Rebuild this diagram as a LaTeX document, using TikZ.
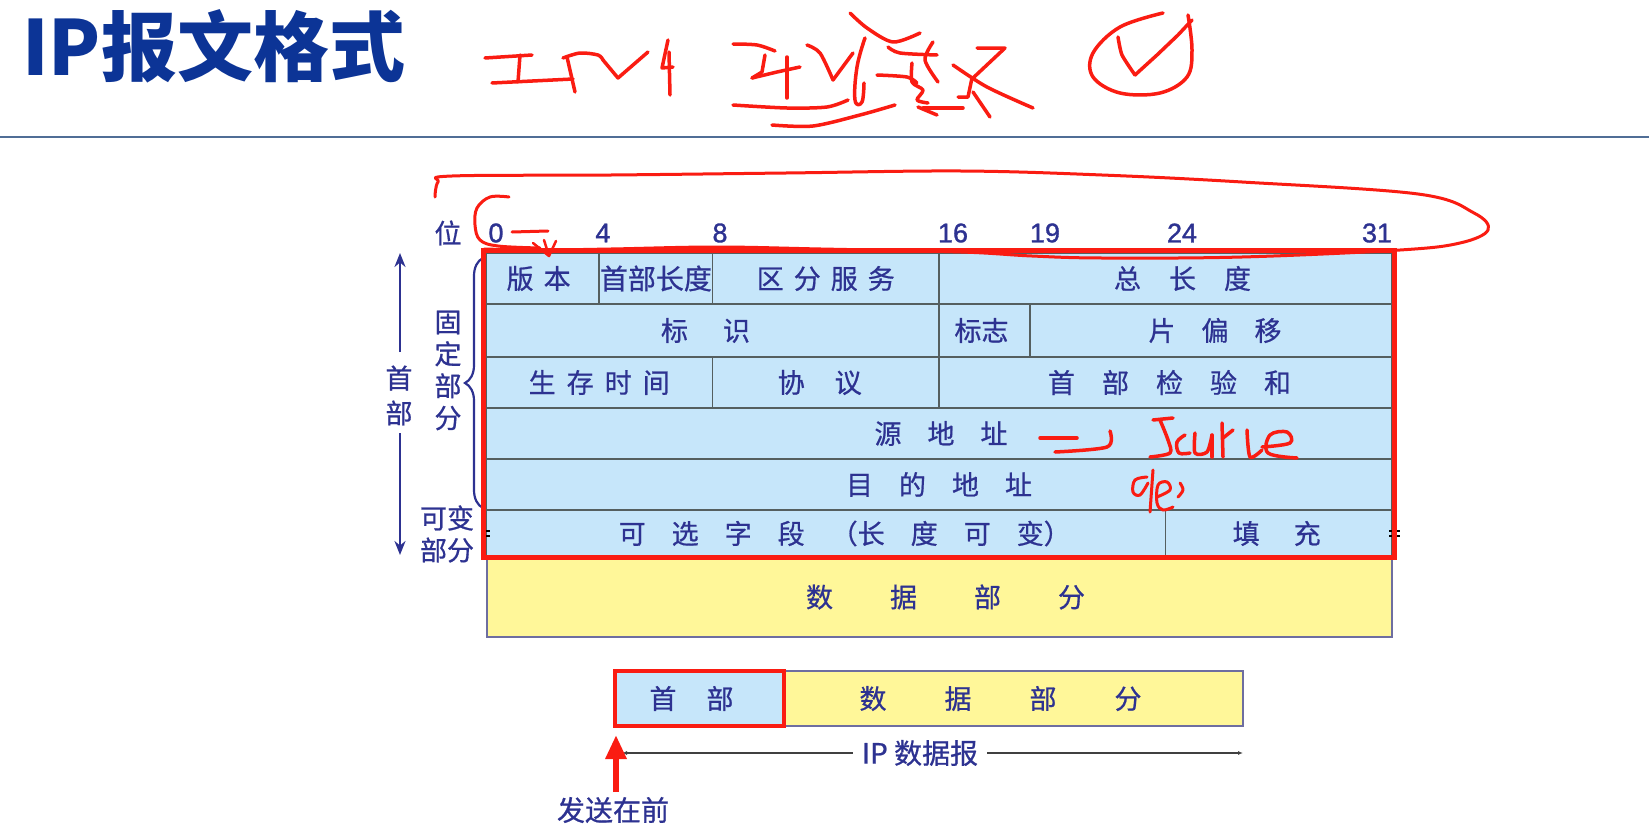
\documentclass[tikz,border=0pt]{standalone}
\usepackage{fontspec}
\usetikzlibrary{arrows.meta,decorations.pathreplacing}
\newfontfamily\cjk[FakeBold=0.7]{Noto Sans CJK SC}
\newfontfamily\cjktitle{Noto Sans CJK SC}
\newfontfamily\arialf[FakeBold=1.2]{Liberation Sans}
\definecolor{navy}{RGB}{45,50,145}
\definecolor{titleblue}{RGB}{12,52,150}
\definecolor{cellblue}{RGB}{198,230,250}
\definecolor{yellowc}{RGB}{255,247,153}
\definecolor{gridc}{RGB}{85,95,95}
\definecolor{datab}{RGB}{110,110,160}
\definecolor{hred}{RGB}{250,28,18}
\definecolor{rulec}{RGB}{80,110,150}
\newcommand\hgap[1]{\hspace{#1pt}}
\newcommand\bw{28.3125pt}
\begin{document}
\begin{tikzpicture}[x=1pt,y=-1pt,
  cell/.style={draw=gridc, line width=1.6pt, fill=cellblue, anchor=north west, inner sep=0, outer sep=0},
  txt/.style={font=\cjk\fontsize{27}{32}\selectfont, text=navy, inner sep=0, align=center},
  bitlbl/.style={font=\arialf\fontsize{27}{27}\selectfont, text=navy, inner sep=0},
  hand/.style={draw=hred, line width=3.5pt, line cap=round, line join=round},
  dline/.style={draw=black!75, line width=1.2pt},
]
\fill[white] (0,0) rectangle (1649,835);
\useasboundingbox (0,0) rectangle (1649,835);

% title and rule
\node[anchor=base west, inner sep=0, text=titleblue, font=\cjktitle\bfseries\fontsize{76}{76}\selectfont] (title) at (22,75) {IP报文格式};
\coordinate (ruleL) at (0,137);
\coordinate (ruleR) at (1649,137);
\draw[rulec, line width=2pt] (ruleL) -- (ruleR);

% bit labels
\node[txt] (wei) at (448,233) {位};
\node[bitlbl] (b0) at (496,233) {0};
\node[bitlbl] (b4) at (603,233) {4};
\node[bitlbl] (b8) at (720,233) {8};
\node[bitlbl] (b16) at (953,233) {16};
\node[bitlbl] (b19) at (1045,233) {19};
\node[bitlbl] (b24) at (1182,233) {24};
\node[bitlbl] (b31) at (1377,233) {31};

% data part (below header)
\node[anchor=north west, fill=yellowc, draw=datab, line width=1.5pt, inner sep=0, outer sep=0, minimum width=905pt, minimum height=80pt] (data) at (487,557) {};
\node[txt, xshift=6pt] (tdata) at (data.center) {数\hgap{57}据\hgap{57}部\hgap{57}分};

% header cells
\node[cell, minimum width=4*\bw, minimum height=51pt] (c1) at (486,253) {};
\node[cell, minimum width=4*\bw, minimum height=51pt] (c2) at (599.25,253) {};
\node[cell, minimum width=8*\bw, minimum height=51pt] (c3) at (712.5,253) {};
\node[cell, minimum width=16*\bw, minimum height=51pt] (c4) at (939,253) {};
\node[cell, minimum width=16*\bw, minimum height=53pt] (c5) at (486,304) {};
\node[cell, minimum width=91pt, minimum height=53pt] (c6) at (939,304) {};
\node[cell, minimum width=362pt, minimum height=53pt] (c7) at (1030,304) {};
\node[cell, minimum width=8*\bw, minimum height=51pt] (c8) at (486,357) {};
\node[cell, minimum width=8*\bw, minimum height=51pt] (c9) at (712.5,357) {};
\node[cell, minimum width=16*\bw, minimum height=51pt] (c10) at (939,357) {};
\node[cell, minimum width=32*\bw, minimum height=51pt] (c11) at (486,408) {};
\node[cell, minimum width=32*\bw, minimum height=51pt] (c12) at (486,459) {};
\node[cell, minimum width=24*\bw, minimum height=47pt] (c13) at (486,510) {};
\node[cell, minimum width=8*\bw, minimum height=47pt] (c14) at (1165.5,510) {};

\node[txt, xshift=-4pt] (t1) at (c1.center) {版\hgap{10}本};
\node[txt, font=\cjk\fontsize{28}{28}\selectfont] (t2) at (c2.center) {首部长度};
\node[txt] (t3) at (c3.center) {区\hgap{10}分\hgap{10}服\hgap{10}务};
\node[txt, xshift=17pt] (t4) at (c4.center) {总\hgap{28}长\hgap{28}度};
\node[txt, xshift=-7pt] (t5) at (c5.center) {标\hgap{35}识};
\node[txt, xshift=-3pt] (t6) at (c6.center) {标志};
\node[txt, xshift=4pt] (t7) at (c7.center) {片\hgap{26}偏\hgap{26}移};
\node[txt] (t8) at (c8.center) {生\hgap{11}存\hgap{11}时\hgap{11}间};
\node[txt, xshift=-6pt] (t9) at (c9.center) {协\hgap{30}议};
\node[txt, xshift=4pt] (t10) at (c10.center) {首\hgap{27}部\hgap{27}检\hgap{27}验\hgap{27}和};
\node[txt, xshift=2pt] (t11) at (c11.center) {源\hgap{26}地\hgap{26}址};
\node[txt] (t12) at (c12.center) {目\hgap{26}的\hgap{26}地\hgap{26}址};
\node[txt, xshift=19pt] (t13) at (c13.center) {可\hgap{26}选\hgap{26}字\hgap{26}段\hgap{26}（长\hgap{26}度\hgap{26}可\hgap{26}变）};
\node[txt, xshift=-2pt] (t14) at (c14.center) {填\hgap{34}充};

% small break marks
\draw[black, line width=1.3pt] (481,531) -- (490,531) (481,536) -- (490,536);
\draw[black, line width=1.3pt] (1389,531) -- (1400,531) (1389,536) -- (1400,536);

% left annotations
\node[txt] (guding) at (448,370.5) {固\\定\\部\\分};
\node[txt] (kebian) at (447,534) {可变\\部分};
\node[txt, font=\cjk\fontsize{27}{35}\selectfont] (shoubu) at (399,395.5) {首\\部};
\coordinate (vt) at (400,253);
\coordinate (vb) at (400,555);
\coordinate (vg1) at (400,352);
\coordinate (vg2) at (400,433);
\draw[navy, line width=2.5pt, -{Stealth[length=14pt,width=11pt]}] (vg1) -- (vt);
\draw[navy, line width=2.5pt, -{Stealth[length=14pt,width=11pt]}] (vg2) -- (vb);
\coordinate (brb) at (483,508);
\coordinate (brt) at (483,258);
\draw[navy, line width=2.2pt, decorate, decoration={brace, amplitude=18pt}] (brb) -- (brt);

% red frame around header
\draw[hred, line width=5pt] (483,250) rectangle (1394,557);

% bottom datagram bar
\node[anchor=north west, fill=yellowc, draw=datab, line width=1.5pt, inner sep=0, outer sep=0, minimum width=459pt, minimum height=55pt] (dat2) at (784,671) {};
\node[anchor=north west, fill=cellblue, draw=hred, line width=4pt, inner sep=0, outer sep=0, minimum width=169pt, minimum height=55pt] (hdr) at (615,671) {};
\node[txt, xshift=-8pt] (thdr) at (hdr.center) {首\hgap{30}部};
\node[txt, xshift=-13pt] (tdat2) at (dat2.center) {数\hgap{58}据\hgap{58}部\hgap{58}分};
\coordinate (ipL) at (622,753);
\coordinate (ipR) at (1243,753);
\node[txt, fill=white, inner xsep=9pt, inner ysep=2pt, font=\cjk\fontsize{28}{28}\selectfont] (iplbl) at (920,753) {IP 数据报};
\draw[dline, -{Latex[length=5pt,width=4pt]}] (iplbl.west) -- (ipL);
\draw[dline, -{Latex[length=5pt,width=4pt]}] (iplbl.east) -- (ipR);
\node[txt, font=\cjk\fontsize{28}{28}\selectfont] (send) at (613,810) {发送在前};
\coordinate (sendtip) at (616,735);
\coordinate (sendbase) at (616,792);
\draw[hred, line width=6pt, -{Triangle[length=24pt,width=20pt]}] (sendbase) -- (sendtip);

% handwriting: loop around bit numbers
\draw[hand, line width=3pt] plot[smooth, tension=0.6] coordinates {(435,197) (438,182) (452,176) (611,175) (786,173) (961,171) (1102,175) (1242,182) (1418,194) (1474,213) (1488,230) (1460,243) (1400,250) (1242,257) (1102,258) (1032,256) (961,252) (821,249) (716,247) (611,249) (540,250) (484,249)};
\draw[hand, line width=3pt] plot[smooth, tension=0.6] coordinates {(509,197) (490,197) (477,208) (475,225) (480,240) (498,246) (540,248)};
\draw[hand, line width=3pt] (512,232) -- (548,231);
\draw[hand, line width=2.5pt] (533,243) -- (549,256) -- (556,241);
\draw[hand, line width=2.5pt] (544,240) -- (549,256);

% handwriting: IPv4
\draw[hand] (485,58) -- (532,55);
\draw[hand] (520,55) -- (518,82);
\draw[hand] (492,83) -- (573,79);
\draw[hand] (567,57) -- (575,92);
\draw[hand] plot[smooth, tension=0.5] coordinates {(563,58) (580,53) (598,55) (603,60)};
\draw[hand] (603,60) -- (618,78) -- (648,52);
\draw[hand] (668,40) -- (662,68) -- (673,67);
\draw[hand] (669,52) -- (670,95);

% handwriting: second word
\draw[hand] plot[smooth, tension=0.5] coordinates {(733,44) (757,45) (775,51)};
\draw[hand] (765,55) -- (762,72) -- (752,78);
\draw[hand] (752,78) -- (777,72) -- (800,67);
\draw[hand] (787,57) -- (787,98);
\draw[hand] plot[smooth, tension=0.5] coordinates {(807,45) (820,53) (833,80)};
\draw[hand] (833,80) -- (853,53);
\draw[hand] plot[smooth, tension=0.7] coordinates {(865,38) (857,67) (855,100) (862,102) (864,83)};
\draw[hand] plot[smooth, tension=0.5] coordinates {(733,105) (787,108) (827,107) (848,100)};
\draw[hand] plot[smooth, tension=0.5] coordinates {(772,125) (813,126) (860,115) (895,105)};
\draw[hand] plot[smooth, tension=0.5] coordinates {(850,13) (867,28) (893,42) (920,33)};
\draw[hand] plot[smooth, tension=0.5] coordinates {(888,47) (900,53) (937,55)};
\draw[hand] plot[smooth, tension=0.5] coordinates {(933,42) (925,60) (938,82)};
\draw[hand] plot[smooth, tension=0.5] coordinates {(877,75) (907,77) (917,83)};
\draw[hand] plot[smooth, tension=0.5] coordinates {(912,63) (912,82) (923,90) (917,100) (928,103)};
\draw[hand] (918,107) -- (937,115);
\draw[hand] (923,108) -- (963,108);
\draw[hand] (977,48) -- (1005,48) -- (973,78);
\draw[hand] plot[smooth, tension=0.5] coordinates {(953,65) (987,87) (1033,108)};
\draw[hand] (972,78) -- (968,97) -- (958,97);
\draw[hand] (973,92) -- (990,117);

% handwriting: circled check
\draw[hand] plot[smooth, tension=0.6] coordinates {(1163,13) (1120,27) (1093,53) (1093,77) (1120,93) (1160,93) (1187,77) (1192,50) (1188,15)};
\draw[hand] plot[smooth, tension=0.4] coordinates {(1118,37) (1122,55) (1135,75)};
\draw[hand] (1135,75) -- (1157,55) -- (1178,35) -- (1192,20);

% handwriting: -> Source, de
\draw[hand] (1040,438) -- (1077,438);
\draw[hand] plot[smooth, tension=0.5] coordinates {(1055,452) (1107,447) (1110,431)};
\draw[hand] (1153,420) -- (1173,418);
\draw[hand] plot[smooth, tension=0.5] coordinates {(1160,420) (1168,440) (1170,453) (1150,457)};
\draw[hand] plot[smooth, tension=0.6] coordinates {(1185,435) (1177,442) (1179,453) (1190,453)};
\draw[hand] plot[smooth, tension=0.5] coordinates {(1195,433) (1195,453) (1207,452) (1212,435)};
\draw[hand] (1212,435) -- (1212,457);
\draw[hand] (1222,423) -- (1223,457);
\draw[hand] (1223,438) -- (1233,430);
\draw[hand] plot[smooth, tension=0.5] coordinates {(1247,430) (1250,457) (1262,450)};
\draw[hand] plot[smooth, tension=0.6] coordinates {(1262,447) (1290,443) (1287,432) (1270,435) (1268,453) (1297,458)};
\draw[hand, line width=3pt] plot[smooth, tension=0.6] coordinates {(1147,477) (1135,480) (1133,492) (1140,495) (1148,483)};
\draw[hand, line width=3pt] (1153,470) -- (1150,512);
\draw[hand, line width=3pt] plot[smooth, tension=0.6] coordinates {(1157,497) (1170,490) (1167,482) (1158,485) (1157,503) (1163,510) (1173,507)};
\draw[hand, line width=3pt] plot[smooth, tension=0.6] coordinates {(1180,483) (1183,490) (1178,497)};
\end{tikzpicture}
\end{document}
